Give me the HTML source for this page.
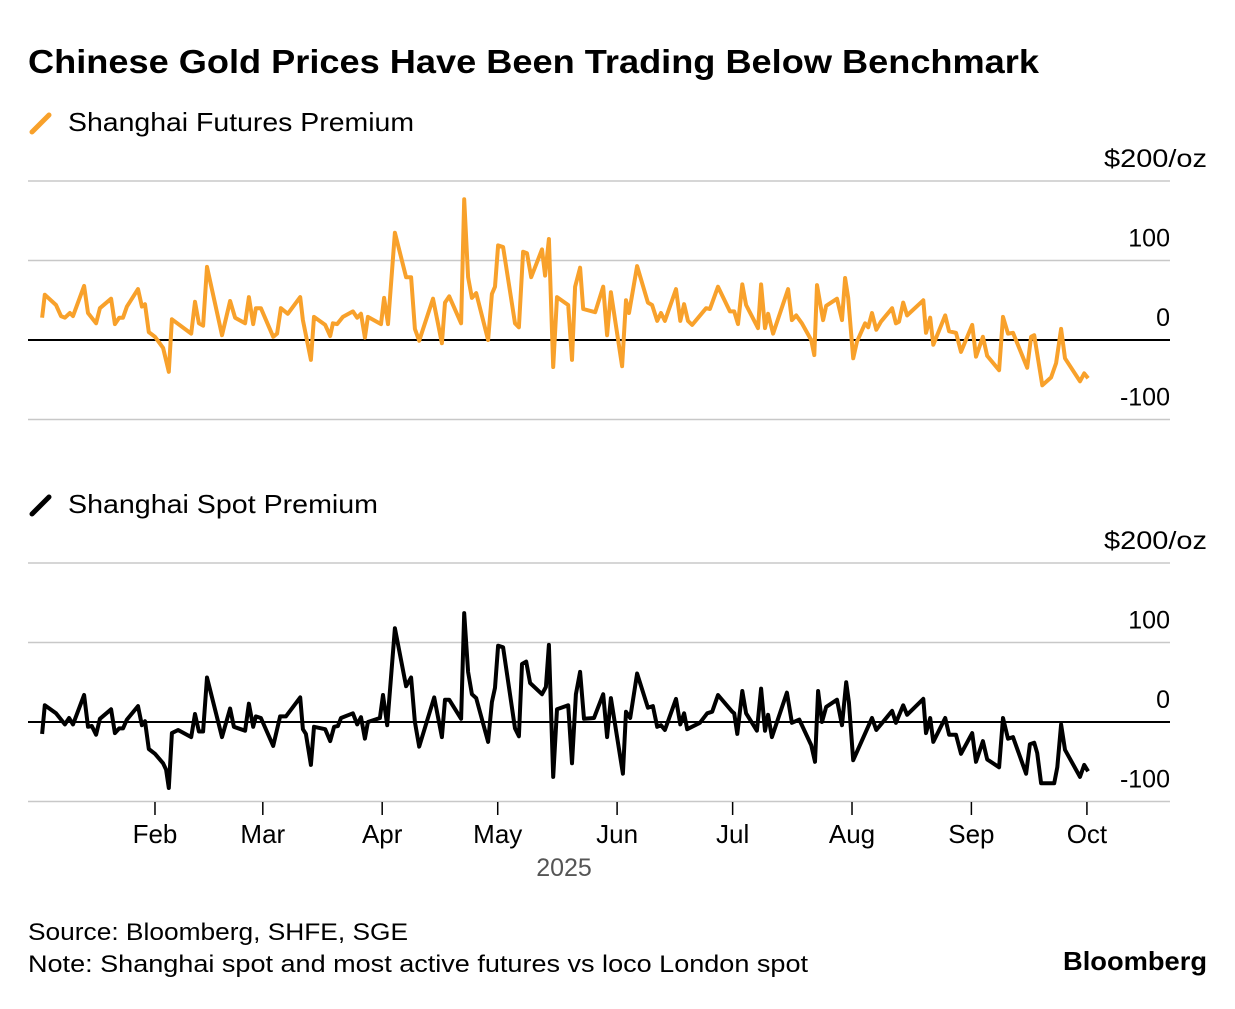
<!DOCTYPE html>
<html><head><meta charset="utf-8">
<style>
html,body{margin:0;padding:0;background:#fff;}
body{width:1235px;height:1004px;overflow:hidden;font-family:"Liberation Sans",sans-serif;}
</style></head>
<body>
<svg id="chart" width="1235" height="1004" xmlns="http://www.w3.org/2000/svg" font-family="Liberation Sans, sans-serif">
<text x="28" y="73" font-size="33" font-weight="bold" fill="#000" textLength="1011" lengthAdjust="spacingAndGlyphs">Chinese Gold Prices Have Been Trading Below Benchmark</text>
<line x1="32" y1="132" x2="49" y2="115" stroke="#f8a12b" stroke-width="5" stroke-linecap="round"/>
<text x="68" y="131" font-size="26" fill="#000" textLength="346" lengthAdjust="spacingAndGlyphs">Shanghai Futures Premium</text>
<line x1="32" y1="514" x2="49" y2="497" stroke="#000" stroke-width="5" stroke-linecap="round"/>
<text x="68" y="513" font-size="26" fill="#000" textLength="310" lengthAdjust="spacingAndGlyphs">Shanghai Spot Premium</text>
<g id="top"></g>
<g id="bottom"></g>
<g id="xaxis"></g>
<text x="564" y="876" font-size="25" fill="#555" text-anchor="middle">2025</text>
<text x="28" y="940" font-size="24" fill="#000" textLength="380" lengthAdjust="spacingAndGlyphs">Source: Bloomberg, SHFE, SGE</text>
<text x="28" y="972" font-size="24" fill="#000" textLength="780" lengthAdjust="spacingAndGlyphs">Note: Shanghai spot and most active futures vs loco London spot</text>
<text x="1063" y="970" font-size="26" font-weight="bold" fill="#000" textLength="144" lengthAdjust="spacingAndGlyphs">Bloomberg</text>
</svg>
<script>
const futDays=[1.7,2.4,5.3,6.6,7.6,8.9,9.7,12.6,13.6,15.7,16.7,19.6,20.6,21.7,22.7,23.7,26.6,27.6,28.4,29.4,31.0,33.1,34.6,35.4,40.4,41.4,42.4,43.5,44.5,48.4,50.5,51.8,54.4,55.4,56.5,57.2,58.5,61.7,62.7,63.7,65.5,68.7,69.4,71.5,72.3,75.2,76.5,77.2,78.3,79.8,82.4,83.5,84.5,85.5,86.3,89.7,90.5,91.5,93.3,96.2,97.5,98.5,99.6,103.2,105.5,106.3,107.4,110.5,111.3,112.3,113.3,114.4,117.5,118.5,119.3,120.1,121.4,124.5,125.5,126.6,127.6,128.7,131.5,132.3,133.3,134.4,135.4,138.3,139.3,140.1,141.4,142.2,145.3,147.4,148.4,149.4,152.3,153.3,154.1,156.2,159.0,160.1,161.4,162.4,163.4,166.3,167.4,168.4,169.4,170.5,174.1,175.1,177.2,180.3,181.4,182.4,183.5,184.5,187.6,188.4,189.4,190.2,191.5,195.4,196.4,197.5,199.0,201.4,202.2,202.9,204.5,205.3,208.1,209.4,210.2,211.0,212.3,213.3,215.4,216.2,217.2,218.3,219.5,222.4,223.4,224.2,225.3,226.3,230.5,231.2,232.3,233.1,236.2,237.2,239.0,240.3,243.2,244.2,246.0,247.1,250.2,251.2,252.5,253.8,257.5,258.5,259.3,261.4,263.7,265.0,266.3,267.3,271.2,272.3,273.3];
const futVals=[28,57,44,30,28,34,30,68,34,21,40,52,20,28,28,42,64,42,45,10,4,-10,-40,26,8,48,21,18,92,6,49,28,21,54,20,40,40,4,8,40,33,54,25,-25,29,19,5,21,20,29,36,28,33,3,29,20,53,20,135,79,79,14,-1,52,-4,47,55,21,177,79,53,59,0,58,67,119,117,21,16,111,109,79,114,81,127,-34,54,44,-25,67,91,39,35,67,6,60,-33,50,34,93,47,44,24,34,24,64,24,45,24,19,40,39,67,36,36,20,70,44,15,70,15,33,8,64,25,31,21,0,-19,69,25,43,52,25,78,53,-23,-2,21,16,34,13,23,40,21,23,47,31,50,9,28,-6,31,11,9,-15,19,-21,4,-20,-38,29,8,9,-35,4,6,-57,-47,-29,14,-23,-52,-42,-48];
const spotDays=[1.7,2.4,5.3,7.6,8.7,9.7,12.6,13.6,14.6,15.7,16.7,19.6,20.6,21.7,22.7,23.7,26.6,27.6,28.4,29.4,31.0,33.1,33.9,34.6,35.4,37.0,40.4,41.4,42.4,43.5,44.5,48.4,50.5,51.5,54.4,55.4,56.5,57.2,58.5,61.7,63.5,65.0,68.7,69.4,70.2,71.5,72.3,75.2,76.5,77.5,78.5,79.3,82.4,83.5,84.5,85.5,86.3,89.4,90.2,91.3,93.3,96.2,97.5,98.5,99.6,103.5,105.5,106.3,107.4,110.5,111.3,112.3,113.3,114.4,117.5,118.5,119.3,120.1,121.4,124.5,125.5,126.3,127.4,128.4,131.5,132.5,133.3,134.4,135.4,138.3,139.3,140.3,141.4,142.4,145.0,147.4,148.4,149.4,152.5,153.3,154.4,156.2,159.0,160.3,161.4,162.4,163.4,166.3,167.4,168.4,169.2,172.5,174.4,175.7,177.2,180.9,181.4,182.2,183.5,184.5,187.3,188.4,189.4,190.2,191.2,195.1,196.4,198.3,201.4,202.4,203.2,204.2,205.3,208.1,209.4,210.5,211.2,212.3,217.2,218.3,222.4,223.4,225.3,226.3,230.5,231.2,232.3,233.1,236.2,237.2,239.0,240.3,243.2,244.2,246.0,247.1,250.2,251.2,252.5,253.8,257.2,258.2,259.3,260.1,261.1,264.5,265.3,266.3,267.3,271.2,272.3,273.3];
const spotVals=[-15,21,11,-3,5,-3,34,-6,-5,-16,4,16,-14,-8,-8,3,20,-4,1,-34,-40,-52,-60,-83,-14,-10,-19,10,-12,-12,56,-19,17,-6,-11,23,-6,7,5,-30,7,7,31,-9,-15,-54,-6,-9,-24,-6,-5,5,11,-3,6,-21,0,5,34,-4,118,45,56,0,-31,31,-19,28,28,4,137,63,35,30,-25,25,43,96,94,-8,-18,73,76,49,35,44,97,-69,16,21,-52,35,63,4,5,35,-19,30,-65,13,5,61,18,20,-6,-4,-10,29,-3,11,-9,-1,11,13,34,13,11,-15,39,11,-11,42,-11,9,-19,37,-1,3,-29,-50,39,0,19,28,-4,50,25,-48,5,-10,14,-1,21,9,29,-14,5,-25,5,-16,-16,-40,-14,-50,-24,-47,-57,5,-21,-19,-65,-28,-26,-39,-77,-77,-57,-3,-35,-69,-54,-62];
const monthLabels=["Feb","Mar","Apr","May","Jun","Jul","Aug","Sep","Oct"];
const monthDays=[31,59,90,120,151,181,212,243,273];
const yTicks=[-100,0,100,200];

const NS="http://www.w3.org/2000/svg";
function xScale(d){return 35.6+d*3.851;}
function mk(tag,attrs,parent){const e=document.createElementNS(NS,tag);for(const k in attrs)e.setAttribute(k,attrs[k]);parent.appendChild(e);return e;}
function panel(gid,zeroY,days,vals,color,nm){
  const g=document.getElementById(gid);
  const yS=v=>zeroY-v*0.795;
  yTicks.forEach(t=>{
    const ln=mk('line',{x1:28,x2:1170,y1:yS(t),y2:yS(t),stroke:t===0?'#000':'#c8c8c8','stroke-width':t===0?2:1.5},g);
    
    
    const attrs={x:t===200?1207:1170,y:yS(t)-14,'font-size':25,'text-anchor':'end',fill:'#000'};
    if(t===200){attrs.x=1104;attrs['text-anchor']='start';attrs.textLength=103;attrs.lengthAdjust='spacingAndGlyphs';}
    const tx=mk('text',attrs,g);
    tx.textContent=t===200?'$200/oz':String(t);
    
    
  });
  const pts=days.map((d,i)=>xScale(d).toFixed(1)+','+yS(vals[i]).toFixed(1)).join(' ');
  const pl=mk('polyline',{points:pts,fill:'none',stroke:color,'stroke-width':4,'stroke-linejoin':'round'},g);
  
  
}
panel('top',340,futDays,futVals,'#f8a12b','futures-premium-line');
panel('bottom',722,spotDays,spotVals,'#000','spot-premium-line');
const xa=document.getElementById('xaxis');
monthDays.forEach((d,i)=>{
  const x=xScale(d);
  const t=mk('line',{x1:x,x2:x,y1:802,y2:815,stroke:'#000','stroke-width':1.5},xa);
  
  
  const l=mk('text',{x:x,y:843,'font-size':26,'text-anchor':'middle',fill:'#000'},xa);
  l.textContent=monthLabels[i];
  
  
});
</script>
</body></html>
